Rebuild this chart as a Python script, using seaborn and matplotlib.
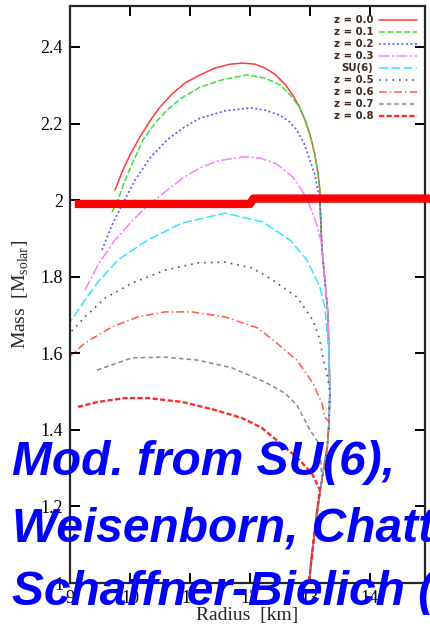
import numpy as np
import pandas as pd
import matplotlib
matplotlib.use("Agg")
import matplotlib.pyplot as plt
import seaborn as sns

# ---------------- data ----------------
labels = ["z = 0.0", "z = 0.1", "z = 0.2", "z = 0.3", "SU(6)",
          "z = 0.5", "z = 0.6", "z = 0.7", "z = 0.8"]

r_z00 = [9.750, 9.867, 10.000, 10.167, 10.333, 10.500, 10.700, 10.917, 11.167, 11.417, 11.667,
         11.883, 12.083, 12.250, 12.417, 12.583, 12.717, 12.833, 12.933, 13.017, 13.083, 13.133, 13.167]
m_z00 = [2.026, 2.073, 2.118, 2.165, 2.207, 2.243, 2.277, 2.306, 2.327, 2.345, 2.355,
         2.358, 2.355, 2.345, 2.329, 2.303, 2.274, 2.241, 2.204, 2.162, 2.118, 2.073, 2.026]

r_z01 = [9.700, 9.800, 9.917, 10.067, 10.217, 10.417, 10.617, 10.883, 11.167, 11.533, 11.950,
         12.250, 12.500, 12.667, 12.833, 12.933, 13.017, 13.083, 13.133, 13.167]
m_z01 = [1.969, 2.000, 2.052, 2.105, 2.157, 2.201, 2.235, 2.269, 2.295, 2.314, 2.327,
         2.319, 2.301, 2.276, 2.241, 2.204, 2.162, 2.118, 2.073, 2.026]

r_z02 = [9.533, 9.700, 9.883, 10.083, 10.333, 10.617, 10.883, 11.167, 11.583, 12.000, 12.250,
         12.500, 12.667, 12.783, 12.900, 13.000, 13.083, 13.133]
m_z02 = [1.870, 1.935, 1.992, 2.052, 2.110, 2.157, 2.188, 2.214, 2.233, 2.241, 2.235,
         2.222, 2.204, 2.183, 2.149, 2.105, 2.066, 2.026]

r_z03 = [9.250, 9.467, 9.750, 10.033, 10.300, 10.583, 10.883, 11.167, 11.450, 11.883, 12.167,
         12.450, 12.717, 12.950, 13.117, 13.200]
m_z03 = [1.765, 1.831, 1.896, 1.945, 1.987, 2.021, 2.058, 2.084, 2.102, 2.113, 2.110,
         2.094, 2.060, 2.005, 1.935, 1.883]

r_su6 = [8.95, 9.25, 9.467, 9.80, 10.30, 10.867, 11.583, 12.217, 12.667, 12.95, 13.167, 13.25, 13.283]
m_su6 = [1.670, 1.739, 1.786, 1.844, 1.896, 1.940, 1.966, 1.943, 1.896, 1.844, 1.773, 1.721, 1.661]

r_z05 = [8.95, 9.25, 9.583, 10.033, 10.583, 11.133, 11.583, 12.033, 12.383, 12.783, 13.05, 13.167, 13.217, 13.283]
m_z05 = [1.645, 1.695, 1.744, 1.783, 1.817, 1.836, 1.838, 1.823, 1.791, 1.747, 1.687, 1.635, 1.590, 1.548]

r_z06 = [8.95, 9.25, 9.70, 10.133, 10.583, 11.033, 11.583, 12.133, 12.383, 12.783, 13.05, 13.20, 13.25]
m_z06 = [1.585, 1.627, 1.669, 1.695, 1.708, 1.708, 1.695, 1.666, 1.635, 1.582, 1.522, 1.470, 1.434]

r_z07 = [9.45, 10.033, 10.583, 11.133, 11.70, 12.25, 12.583, 12.783, 13.0, 13.167]
m_z07 = [1.556, 1.588, 1.590, 1.582, 1.562, 1.525, 1.496, 1.465, 1.400, 1.360]

r_z08 = [9.133, 9.467, 9.917, 10.30, 10.867, 11.417, 11.867, 12.20, 12.50, 12.833, 13.05, 13.167]
m_z08 = [1.460, 1.473, 1.483, 1.483, 1.473, 1.452, 1.431, 1.405, 1.366, 1.321, 1.282, 1.243]

# common (nucleonic) branch shared by all curves
r_common = [13.167, 13.20, 13.25, 13.30, 13.317, 13.333, 13.32, 13.29, 13.20, 13.117, 13.05, 12.983]
m_common = [2.000, 1.877, 1.791, 1.705, 1.609, 1.500, 1.420, 1.355, 1.269, 1.183, 1.094, 1.000]

# 2 solar mass band (step line)
band_r = [9.08, 12.00, 12.06, 15.3]
band_m = [1.990, 1.990, 2.004, 2.004]

x_ticks = [9, 10, 11, 12, 13, 14]
y_ticks = [1.0, 1.2, 1.4, 1.6, 1.8, 2.0, 2.2, 2.4]

annotation = ["Mod. from SU(6),", "Weisenborn, Chatterjee,", "Schaffner-Bielich (2012)"]

# ---------------- styling ----------------
sns.set_style("ticks")
plt.rcParams["font.family"] = ["Liberation Serif", "DejaVu Serif"]
plt.rcParams["axes.linewidth"] = 1.6

colors = ["#ff3b3b", "#3fdc3f", "#5a5aff", "#ff7cff", "#2fe6ff",
          "#555555", "#ff5a3a", "#8a8a8a", "#ff2a2a"]
dashes = [None, (4, 1.5), (1.2, 1.5), (7, 1.5, 1.5, 1.5), (6, 2),
          (1, 3), (5, 2, 1, 2), (3, 2), (2.2, 1.0)]
widths = [1.1, 1.1, 1.2, 1.1, 1.1, 1.2, 1.1, 1.1, 1.7]

series = [(r_z00, m_z00), (r_z01, m_z01), (r_z02, m_z02), (r_z03, m_z03), (r_su6, m_su6),
          (r_z05, m_z05), (r_z06, m_z06), (r_z07, m_z07), (r_z08, m_z08)]

fig = plt.figure(figsize=(4.30, 6.28), dpi=100)
ax = fig.add_axes([70 / 430, 1 - 583 / 628, 355 / 430, 577 / 628])

for (r, m), lab, c, d, w in zip(series, labels, colors, dashes, widths):
    tail = [(x, y) for x, y in zip(r_common, m_common) if y < m[-1] - 0.01]
    rr = list(r) + [p[0] for p in tail]
    mm = list(m) + [p[1] for p in tail]
    df = pd.DataFrame({"Radius": rr, "Mass": mm})
    sns.lineplot(data=df, x="Radius", y="Mass", sort=False, estimator=None,
                 color=c, linewidth=w, ax=ax, label=lab)
    line = ax.lines[-1]
    if d is not None:
        line.set_dashes(d)

# 2 M_sun band
band_df = pd.DataFrame({"Radius": band_r, "Mass": band_m})
sns.lineplot(data=band_df, x="Radius", y="Mass", sort=False, estimator=None,
             color="#ff0000", linewidth=6.0, ax=ax, legend=False)
bl = ax.lines[-1]
bl.set_clip_on(False)
bl.set_solid_joinstyle("round")
bl.set_solid_capstyle("butt")
bl.set_zorder(5)

ax.set_xlim(9, 14.92)
ax.set_ylim(1.0, 2.507)
ax.set_xticks(x_ticks)
ax.set_yticks(y_ticks)
ax.set_xticklabels([f"{t:g}" for t in x_ticks])
ax.set_yticklabels([f"{t:g}" for t in y_ticks])
ax.tick_params(direction="in", length=7, width=1.4, top=True, right=True,
               labelsize=13, pad=5, colors="black")
for s in ax.spines.values():
    s.set_visible(True)
    s.set_linewidth(1.6)

ax.set_xlabel("Radius  [km]", fontsize=14, labelpad=0)
ax.set_ylabel(r"Mass  [M$_{\mathregular{solar}}$]", fontsize=14, labelpad=7)

handles, labs = ax.get_legend_handles_labels()
leg = ax.legend(handles[:9], labs[:9], loc="upper right", bbox_to_anchor=(0.977, 0.984),
                markerfirst=False, frameon=False, handlelength=3.75, handletextpad=0.55,
                labelspacing=0.2, borderpad=0, borderaxespad=0,
                prop={"family": "DejaVu Sans", "size": 7.3, "weight": "bold"})
for t in leg.get_texts():
    t.set_color("#3a2a20")

# overlay text
baselines = [475, 542, 605]
for txt, yb in zip(annotation, baselines):
    fig.text(12 / 430, 1 - yb / 628, txt, color="#0000ff", fontsize=34.5,
             fontweight="bold", fontstyle="italic", family="Liberation Sans",
             ha="left", va="baseline", zorder=10)

fig.savefig("out.png", dpi=100)
